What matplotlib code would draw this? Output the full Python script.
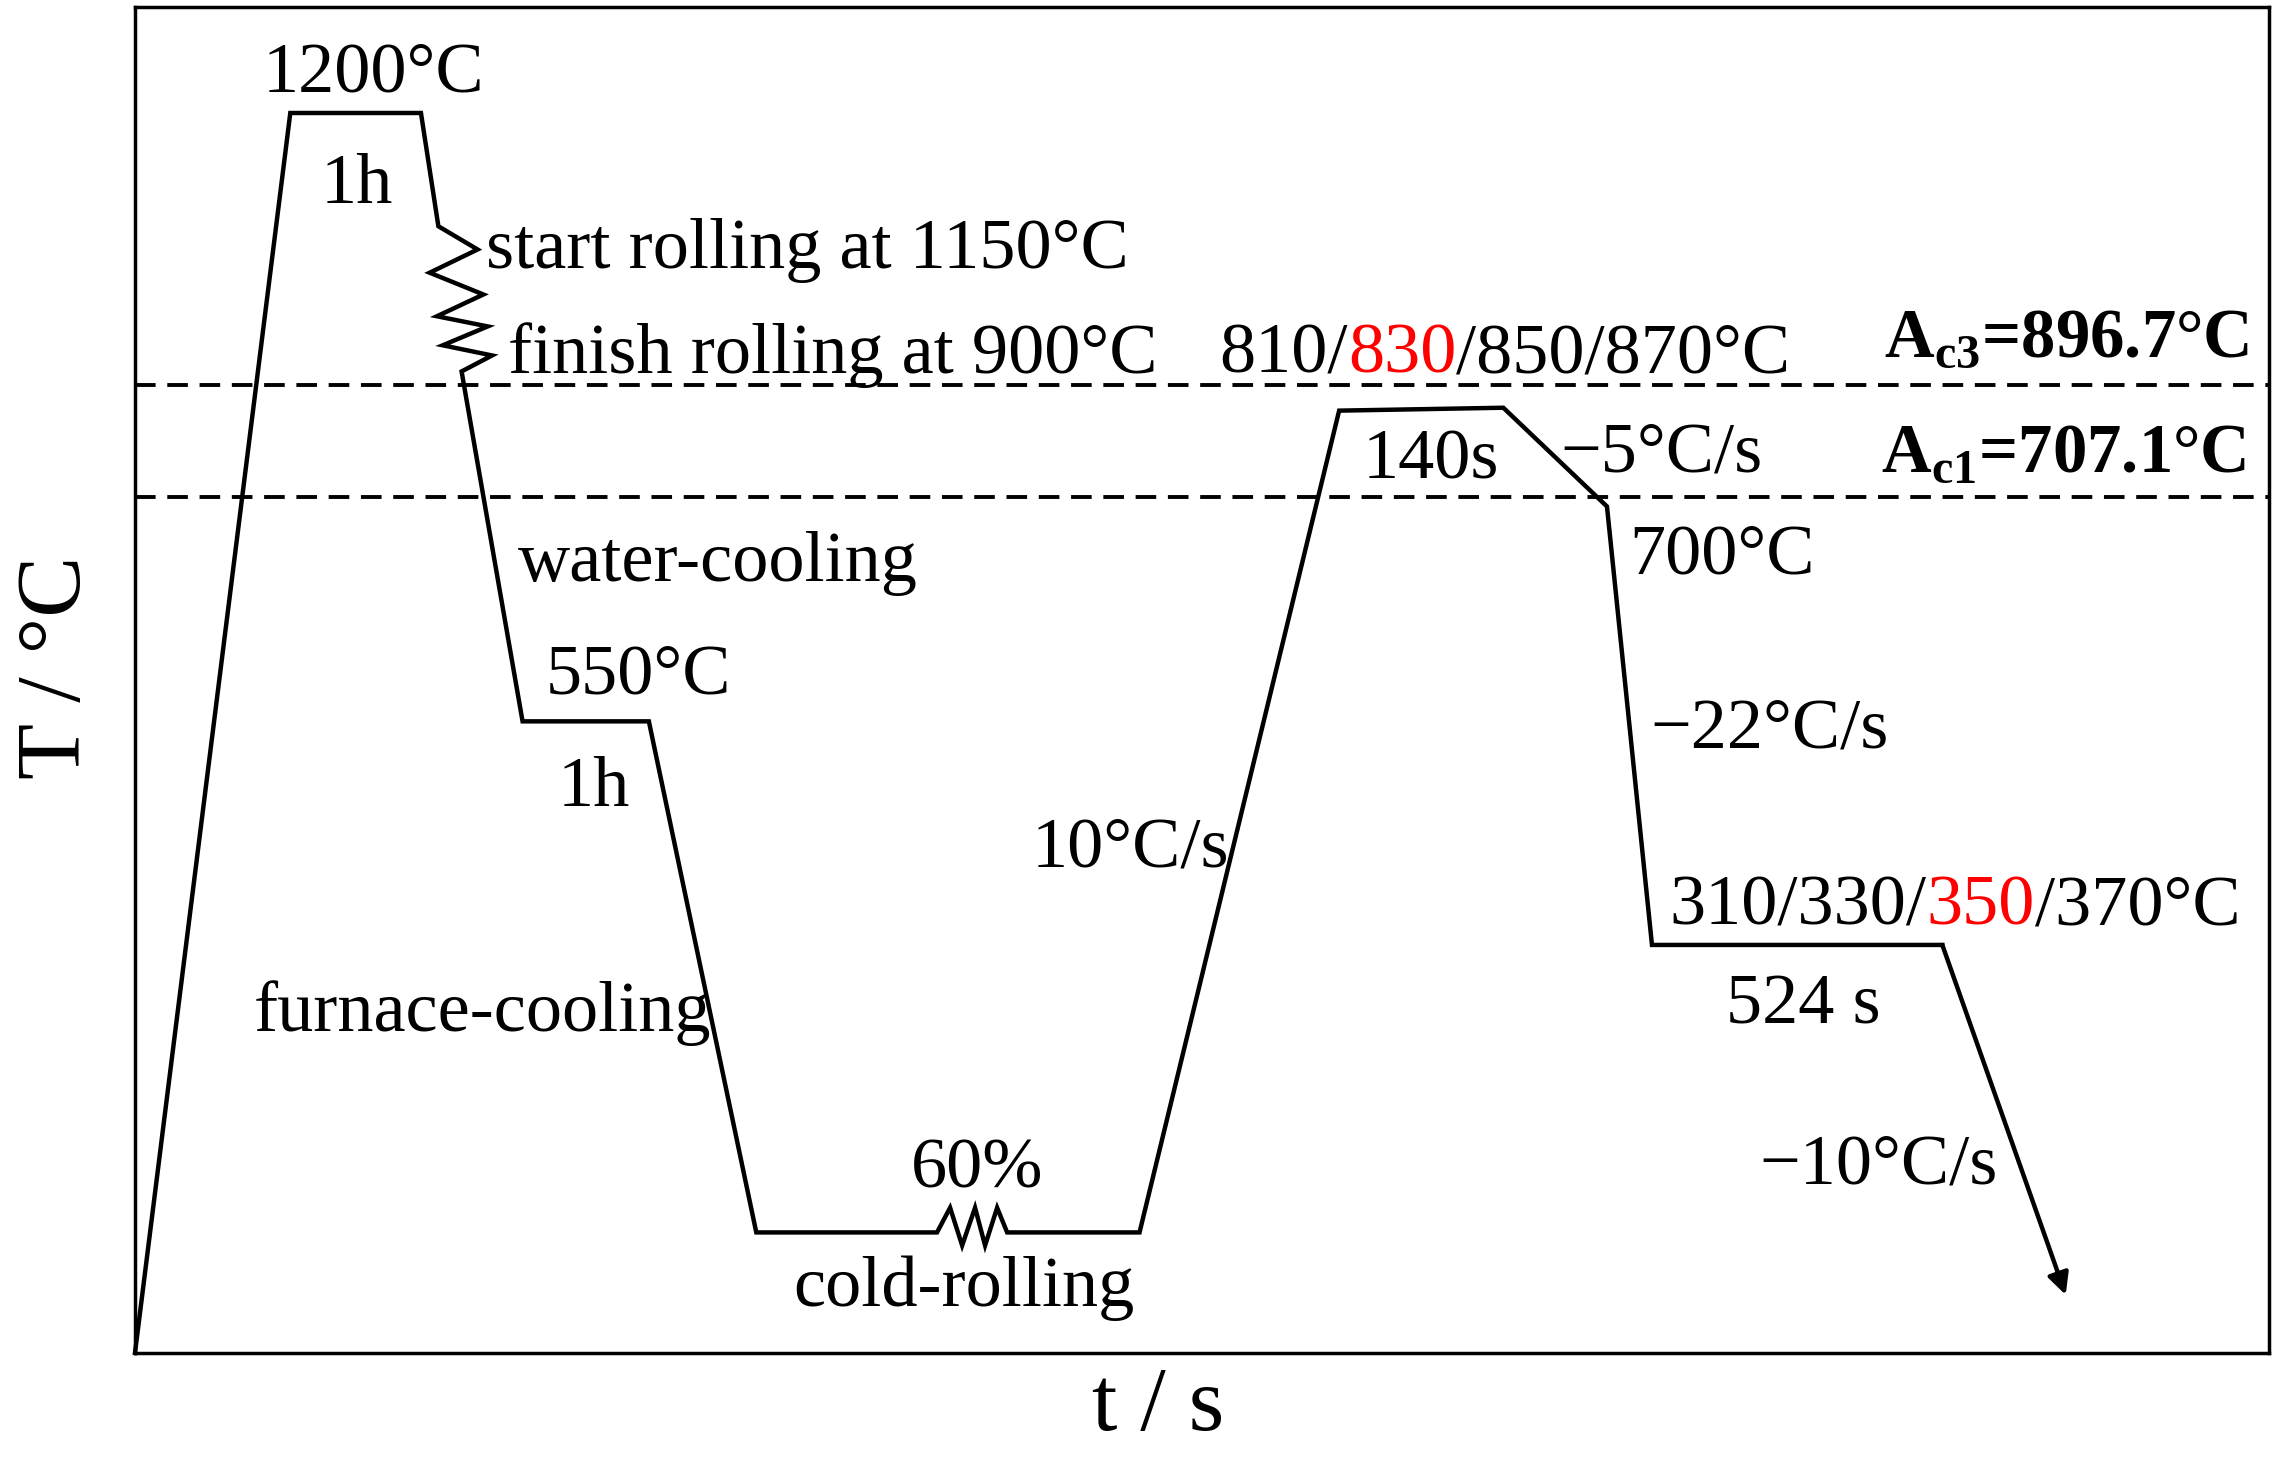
#!/usr/bin/env python3
"""Schematic of the heat-treatment route (T vs t)."""

import matplotlib
matplotlib.use('Agg')
import matplotlib.pyplot as plt

plt.rcParams['font.family'] = ['Liberation Serif', 'DejaVu Serif']
plt.rcParams['mathtext.fontset'] = 'custom'
plt.rcParams['mathtext.rm'] = 'Liberation Serif'
plt.rcParams['mathtext.bf'] = 'Liberation Serif:bold'

# schematic time / temperature path (arbitrary units)
path_t = [93, 200, 290, 302, 329, 296, 333, 301, 336, 305, 339, 318,
          360, 447, 521, 645.5, 654.5, 662.8, 671.7, 678.6, 686.9, 693.8,
          785, 922.5, 1035.6, 1107, 1138, 1338]
path_T = [0, 854, 854, 776, 760, 744, 729, 714, 707, 694, 687, 676,
          435, 435, 83, 83, 100, 74, 100, 74, 100, 83,
          83, 649, 651, 583, 281, 281]
final_cool_end = (1423, 40)

ac3_level = 666.5
ac1_level = 589.4

# annotations: (text, x, y, ha)
labels = [
    ('1200°C', 257, 869, 'center'),
    ('1h', 246, 792, 'center'),
    ('start rolling at 1150°C', 335, 747, 'left'),
    ('finish rolling at 900°C', 350, 675, 'left'),
    ('140s', 986, 602, 'center'),
    ('\u22125°C/s', 1075, 607, 'left'),
    ('700°C', 1122, 537, 'left'),
    ('water-cooling', 357, 532, 'left'),
    ('550°C', 376, 454, 'left'),
    ('1h', 409, 377, 'center'),
    ('\u221222°C/s', 1137, 417, 'left'),
    ('10°C/s', 711, 335, 'left'),
    ('524 s', 1242, 227, 'center'),
    ('furnace-cooling', 175, 222, 'left'),
    ('60%', 673, 114, 'center'),
    ('cold-rolling', 664, 32, 'center'),
    ('\u221210°C/s', 1294, 117, 'center'),
]
# multi-colour labels: pieces with colours
austenitize_parts = [('810/', 'black'), ('830', 'red'), ('/850/870°C', 'black')]
austempering_parts = [('310/330/', 'black'), ('350', 'red'), ('/370°C', 'black')]

FS = 52
LW = 3.2

fig = plt.figure(figsize=(22.76, 14.59), dpi=100)
ax = fig.add_axes([0.0593, 0.0727, 0.9376, 0.9225])
ax.set_xlim(93, 1563)
ax.set_ylim(0, 927)
ax.set_xticks([])
ax.set_yticks([])
for sp in ax.spines.values():
    sp.set_linewidth(2.5)

ax.plot(path_t, path_T, color='black', lw=LW, solid_joinstyle='miter',
        clip_on=False)
ax.annotate('', xy=final_cool_end, xytext=(path_t[-1], path_T[-1]),
            arrowprops=dict(arrowstyle='-|>', lw=LW, color='black',
                            mutation_scale=32, shrinkA=0, shrinkB=0))

for level in (ac3_level, ac1_level):
    ax.axhline(level, color='black', lw=2.8, dashes=(5.3, 3.0))

for txt, x, y, ha in labels:
    ax.text(x, y, txt, fontsize=FS, ha=ha, va='baseline')


def rainbow(parts, x, y):
    t = ax.text(x, y, parts[0][0], color=parts[0][1], fontsize=FS,
                ha='left', va='baseline')
    for s, c in parts[1:]:
        t = ax.annotate(s, xy=(1, 0), xycoords=t, xytext=(0, 0),
                        textcoords='offset points', color=c, fontsize=FS,
                        ha='left', va='bottom')


rainbow(austenitize_parts, 840, 675)
rainbow(austempering_parts, 1150, 295)

ax.text(1298, 686, r'A$_{\mathbf{c3}}$=896.7°C', fontsize=49.5,
        fontweight='bold', ha='left', va='baseline')
ax.text(1296, 607, r'A$_{\mathbf{c1}}$=707.1°C', fontsize=49.5,
        fontweight='bold', ha='left', va='baseline')

ax.text(798, -53, 't / s', fontsize=66, ha='center', va='baseline',
        clip_on=False)
ax.text(40, 472, 'T / °C', fontsize=66, ha='center', va='center',
        rotation=90, clip_on=False)

fig.savefig('out.png', dpi=100)
